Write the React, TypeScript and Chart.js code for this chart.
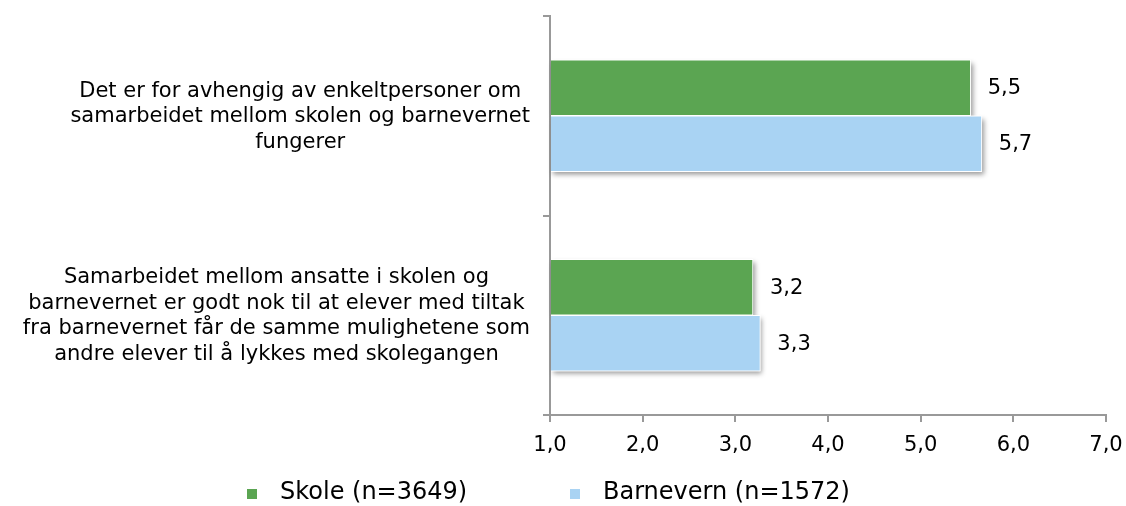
import { useEffect, useRef } from "react";
import { Chart, registerables } from "chart.js";

Chart.register(...registerables);

const categories: string[][] = [
  ["Det er for avhengig av enkeltpersoner om", "samarbeidet mellom skolen og barnevernet", "fungerer"],
  [
    "Samarbeidet mellom ansatte i skolen og",
    "barnevernet er godt nok til at elever med tiltak",
    "fra barnevernet får de samme mulighetene som",
    "andre elever til å lykkes med skolegangen",
  ],
];
const seriesNames = ["Skole (n=3649)", "Barnevern (n=1572)"];
const skoleValues = [5.54, 3.19];
const barnevernValues = [5.66, 3.27];
const xTickValues = [1, 2, 3, 4, 5, 6, 7];
const seriesColors = ["#5BA552", "#A9D3F3"];

const FONT = "'DejaVu Sans', Verdana, sans-serif";
const fmt = (v: number) => v.toFixed(1).replace(".", ",");

const shadowPlugin = {
  id: "barShadow",
  beforeDatasetsDraw(chart: any) {
    const ctx = chart.ctx;
    ctx.save();
    ctx.shadowColor = "rgba(0,0,0,0.4)";
    ctx.shadowBlur = 5;
    ctx.shadowOffsetX = 2;
    ctx.shadowOffsetY = 3;
    ctx.fillStyle = "#ffffff";
    chart.data.datasets.forEach((_: any, di: number) => {
      const meta = chart.getDatasetMeta(di);
      meta.data.forEach((el: any) => {
        const { x, y, base, height } = el.getProps(["x", "y", "base", "height"], true);
        ctx.fillRect(base, y - height / 2, x - base, height);
      });
    });
    ctx.restore();
  },
};

const valueLabelPlugin = {
  id: "valueLabels",
  afterDatasetsDraw(chart: any) {
    const ctx = chart.ctx;
    ctx.save();
    ctx.font = `21px ${FONT}`;
    ctx.fillStyle = "#000";
    ctx.textAlign = "left";
    ctx.textBaseline = "middle";
    chart.data.datasets.forEach((ds: any, di: number) => {
      const meta = chart.getDatasetMeta(di);
      meta.data.forEach((el: any, i: number) => {
        const { x, y } = el.getProps(["x", "y"], true);
        ctx.fillText(fmt(ds.data[i]), x + 17, y + 1);
      });
    });
    ctx.restore();
  },
};

const categoryLabelPlugin = {
  id: "categoryLabels",
  afterDraw(chart: any) {
    const ctx = chart.ctx;
    const yScale = chart.scales.y;
    const rightEdge = chart.chartArea.left - 20;
    const lineH = 25.5;
    ctx.save();
    ctx.font = `21px ${FONT}`;
    ctx.fillStyle = "#000";
    ctx.textAlign = "center";
    ctx.textBaseline = "middle";
    categories.forEach((lines, i) => {
      const widest = Math.max(...lines.map((l) => ctx.measureText(l).width));
      const cx = rightEdge - widest / 2;
      const cy = yScale.getPixelForTick(i);
      lines.forEach((l, j) => {
        ctx.fillText(l, cx, cy + 1 + (j - (lines.length - 1) / 2) * lineH);
      });
    });
    ctx.restore();
  },
};

const legendPlugin = {
  id: "customLegend",
  afterDraw(chart: any) {
    const ctx = chart.ctx;
    const starts = [247, 570];
    const cy = 494;
    ctx.save();
    ctx.font = `24px ${FONT}`;
    ctx.textAlign = "left";
    ctx.textBaseline = "middle";
    chart.data.datasets.forEach((ds: any, i: number) => {
      const x0 = starts[i];
      ctx.fillStyle = ds.backgroundColor;
      ctx.fillRect(x0, cy - 5, 10, 10);
      ctx.fillStyle = "#000";
      ctx.fillText(ds.label, x0 + 33, cy - 1);
    });
    ctx.restore();
  },
};

export default function App() {
  const ref = useRef<HTMLCanvasElement | null>(null);
  useEffect(() => {
    if (!ref.current) return;
    const chart = new Chart(ref.current, {
      type: "bar",
      data: {
        labels: categories.map((c) => c.join(" ")),
        datasets: [
          {
            label: seriesNames[0],
            data: skoleValues,
            backgroundColor: seriesColors[0],
            borderColor: "#ffffff",
            borderWidth: 1,
            borderSkipped: "start",
            barThickness: 56,
            base: 1,
          } as any,
          {
            label: seriesNames[1],
            data: barnevernValues,
            backgroundColor: seriesColors[1],
            borderColor: "#ffffff",
            borderWidth: 1,
            borderSkipped: "start",
            barThickness: 56,
            base: 1,
          } as any,
        ],
      },
      options: {
        indexAxis: "y",
        responsive: false,
        animation: false,
        devicePixelRatio: 1,
        layout: { padding: { top: 16, right: 20, bottom: 51, left: 0 } },
        plugins: {
          legend: { display: false },
          tooltip: { enabled: false },
        },
        scales: {
          x: {
            type: "linear",
            position: "bottom",
            min: 1,
            max: 7,
            afterBuildTicks: (scale: any) => {
              scale.ticks = xTickValues.map((v) => ({ value: v }));
            },
            afterFit: (scale: any) => {
              scale.height = 40;
              scale.paddingLeft = 0;
              scale.paddingRight = 0;
            },
            ticks: {
              callback: (v: any) => fmt(Number(v)),
              font: { family: FONT, size: 21 },
              color: "#000",
              padding: 11,
              maxRotation: 0,
            },
            grid: {
              drawOnChartArea: false,
              drawTicks: true,
              tickLength: 7,
              color: "#999999",
              lineWidth: 2,
            },
            border: { display: true, color: "#999999", width: 2 },
          },
          y: {
            type: "category",
            offset: true,
            z: 1,
            afterFit: (scale: any) => {
              scale.width = 550;
            },
            ticks: { display: false },
            grid: {
              offset: true,
              drawOnChartArea: false,
              drawTicks: true,
              tickLength: 7,
              color: "#999999",
              lineWidth: 2,
            },
            border: { display: true, color: "#999999", width: 2 },
          },
        },
      } as any,
      plugins: [shadowPlugin, valueLabelPlugin, categoryLabelPlugin, legendPlugin],
    });
    return () => chart.destroy();
  }, []);

  return (
    <div style={{ position: "fixed", left: 0, top: 0, width: 1126, height: 506, background: "#fff" }}>
      <canvas ref={ref} width={1126} height={506} style={{ width: 1126, height: 506, display: "block" }} />
    </div>
  );
}
